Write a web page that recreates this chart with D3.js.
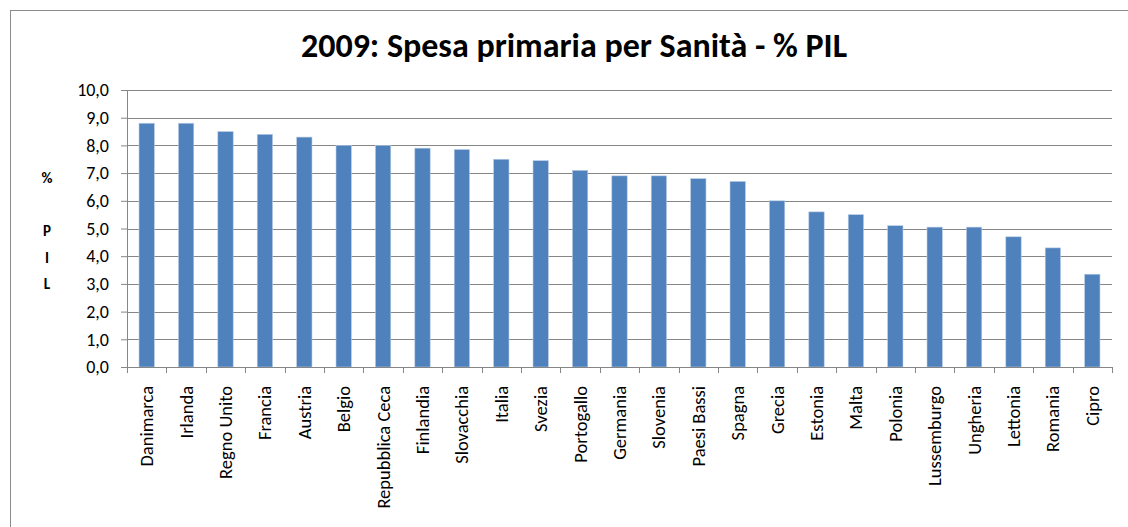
<!DOCTYPE html>
<meta charset="utf-8">
<style>
  body { margin: 0; background: #fff; }
  svg { display: block; font-family: Carlito, Calibri, "Open Sans", sans-serif; }
</style>
<svg width="1128" height="527"></svg>
<script src="https://cdn.jsdelivr.net/npm/d3@7"></script>
<script>
  // dati
  var paesi = ["Danimarca", "Irlanda", "Regno Unito", "Francia", "Austria", "Belgio",
    "Repubblica Ceca", "Finlandia", "Slovacchia", "Italia", "Svezia", "Portogallo",
    "Germania", "Slovenia", "Paesi Bassi", "Spagna", "Grecia", "Estonia", "Malta",
    "Polonia", "Lussemburgo", "Ungheria", "Lettonia", "Romania", "Cipro"];
  var spesa = [8.8, 8.8, 8.5, 8.4, 8.3, 8.0, 8.0, 7.9, 7.85, 7.5, 7.45, 7.1,
    6.9, 6.9, 6.8, 6.7, 6.0, 5.6, 5.5, 5.1, 5.05, 5.05, 4.7, 4.3, 3.35];
  var yTicks = [0, 1, 2, 3, 4, 5, 6, 7, 8, 9, 10];
  var titolo = "2009: Spesa primaria per Sanità - % PIL";
  var yLabel = ["%", "", "P", "I", "L"];

  var svg = d3.select("svg");
  var margin = {top: 90, left: 127, right: 16, bottom: 160};
  var width = +svg.attr("width") - margin.left - margin.right;
  var height = +svg.attr("height") - margin.top - margin.bottom;

  // cornice del grafico (tagliata a destra e in basso)
  svg.append("rect")
    .attr("x", 10.5).attr("y", 10.5)
    .attr("width", 1140).attr("height", 540)
    .attr("fill", "none").attr("stroke", "#8c8c8c").attr("stroke-width", 1);

  svg.append("text")
    .attr("x", 574).attr("y", 57)
    .attr("text-anchor", "middle")
    .attr("font-size", 34).attr("font-weight", "bold")
    .text(titolo);

  var g = svg.append("g").attr("transform", "translate(" + margin.left + "," + margin.top + ")");

  var x = d3.scaleBand().domain(paesi).range([0, width]).padding(0);
  var y = d3.scaleLinear().domain([0, 10]).range([height, 0]);

  // griglia
  g.append("g")
    .selectAll("line")
    .data(yTicks)
    .enter().append("line")
      .attr("x1", 0).attr("x2", width)
      .attr("y1", function(d) { return Math.round(y(d)) + 0.5; })
      .attr("y2", function(d) { return Math.round(y(d)) + 0.5; })
      .attr("stroke", "#868686");

  // barre
  var bw = x.bandwidth() * 0.39;
  g.append("g")
    .selectAll("rect")
    .data(paesi)
    .enter().append("rect")
      .attr("x", function(d) { return x(d) + (x.bandwidth() - bw) / 2; })
      .attr("y", function(d, i) { return y(spesa[i]); })
      .attr("width", bw)
      .attr("height", function(d, i) { return height - y(spesa[i]); })
      .attr("fill", "#4f81bd")
      .attr("stroke", "#b9cde5").attr("stroke-width", 0.6);

  // asse y
  var yAxis = g.append("g")
    .call(d3.axisLeft(y).tickValues(yTicks).tickSize(6).tickPadding(12)
      .tickFormat(function(d) { return d.toFixed(1).replace(".", ","); }));
  yAxis.select(".domain").attr("stroke", "#868686");
  yAxis.selectAll(".tick line").attr("stroke", "#868686");
  yAxis.selectAll("text").attr("font-size", 18).attr("fill", "#000")
    .attr("font-family", "Carlito, Calibri, 'Open Sans', sans-serif");

  // asse x: tacche ai confini delle categorie
  var xAxis = g.append("g").attr("transform", "translate(0," + height + ")");
  xAxis.append("line")
    .attr("x1", 0).attr("x2", width).attr("y1", 0.5).attr("y2", 0.5)
    .attr("stroke", "#868686");
  xAxis.selectAll(".tacca")
    .data(d3.range(paesi.length + 1))
    .enter().append("line")
      .attr("class", "tacca")
      .attr("x1", function(i) { return Math.round(i * x.step()) + 0.5; })
      .attr("x2", function(i) { return Math.round(i * x.step()) + 0.5; })
      .attr("y1", 0).attr("y2", 6)
      .attr("stroke", "#868686");
  xAxis.selectAll(".etichetta")
    .data(paesi)
    .enter().append("text")
      .attr("class", "etichetta")
      .attr("transform", function(d) {
        return "translate(" + (x(d) + x.bandwidth() / 2) + ",19) rotate(-90)";
      })
      .attr("text-anchor", "end")
      .attr("dy", "0.35em")
      .attr("font-size", 18.5)
      .text(function(d) { return d; });

  // etichetta asse y verticale
  svg.append("text")
    .attr("text-anchor", "middle")
    .attr("font-size", 15).attr("font-weight", "bold")
    .selectAll("tspan")
    .data(yLabel)
    .enter().append("tspan")
      .attr("x", 47)
      .attr("y", function(d, i) { return 183 + i * 26.5; })
      .text(function(d) { return d; });
</script>
